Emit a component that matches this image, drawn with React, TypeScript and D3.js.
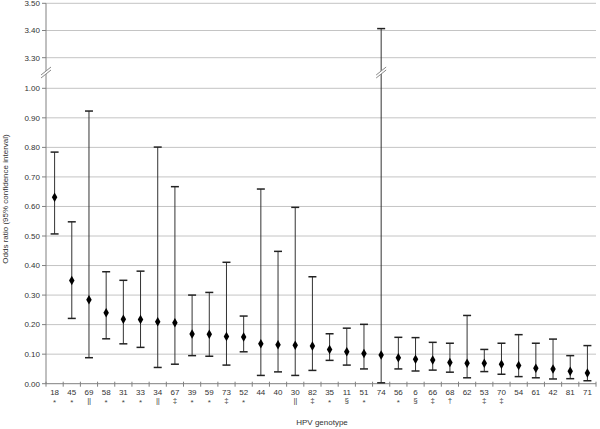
import React from "react";
import * as d3 from "d3";

const genotypes = ["18","45","69","58","31","33","34","67","39","59","73","52","44","40","30","82","35","11","51","74","56","6","66","68","62","53","70","54","61","42","81","71"];
const symbols = ["*","*","||","*","*","*","||","‡","*","*","‡","*","","","||","‡","*","§","*","","*","§","‡","†","","‡","‡","","","","",""];
const oddsRatio = [0.631,0.349,0.284,0.240,0.218,0.217,0.210,0.206,0.168,0.167,0.160,0.158,0.135,0.132,0.130,0.128,0.116,0.108,0.102,0.097,0.088,0.083,0.080,0.072,0.069,0.069,0.066,0.062,0.052,0.050,0.042,0.036];
const ciLower = [0.507,0.221,0.088,0.152,0.135,0.123,0.055,0.066,0.095,0.093,0.063,0.108,0.028,0.040,0.028,0.045,0.079,0.063,0.050,0.003,0.050,0.043,0.046,0.039,0.020,0.041,0.032,0.024,0.020,0.016,0.017,0.010];
const ciUpper = [0.784,0.548,0.923,0.379,0.350,0.381,0.801,0.667,0.300,0.309,0.411,0.229,0.659,0.448,0.597,0.362,0.169,0.188,0.201,3.407,0.157,0.156,0.140,0.137,0.231,0.116,0.137,0.166,0.137,0.151,0.095,0.129];
const lowerTicks = [0, 0.1, 0.2, 0.3, 0.4, 0.5, 0.6, 0.7, 0.8, 0.9, 1.0];
const upperTicks = [3.3, 3.4, 3.5];

const W = 600, H = 429;
const LEFT = 46, RIGHT = 596;
const FONT = "Liberation Sans, Arial, sans-serif";

const x = d3.scaleBand<string>().domain(genotypes).range([LEFT, RIGHT]).padding(0);
const yLow = d3.scaleLinear().domain([0, 1]).range([383.7, 88.3]);
const yHigh = d3.scaleLinear().domain([3.3, 3.5]).range([57.7, 3.3]);
const y = (v: number) => (v > 2 ? yHigh(v) : yLow(v));
const BREAK_Y = 72;

function BreakMark({ cx, cy }: { cx: number; cy: number }) {
  return (
    <g>
      <polygon
        points={`${cx - 5},${cy + 3} ${cx + 5},${cy - 5} ${cx + 5},${cy - 2} ${cx - 5},${cy + 6}`}
        fill="#fff"
      />
      <line x1={cx - 5} y1={cy + 3} x2={cx + 5} y2={cy - 5} stroke="#888" strokeWidth={1} />
      <line x1={cx - 5} y1={cy + 6} x2={cx + 5} y2={cy - 2} stroke="#888" strokeWidth={1} />
    </g>
  );
}

export default function App() {
  const bw = x.bandwidth();
  const ticksX = d3.range(genotypes.length + 1).map((i) => LEFT + i * bw);
  const diamond = d3.symbol().type(d3.symbolDiamond).size(26)();
  const i74 = genotypes.indexOf("74");
  return (
    <svg width={W} height={H} style={{ position: "absolute", left: 0, top: 0, background: "#fff" }} fontFamily={FONT}>
      {/* gridlines */}
      {lowerTicks.filter((t) => t > 0).map((t) => (
        <line key={"gl" + t} x1={LEFT} x2={RIGHT} y1={yLow(t)} y2={yLow(t)} stroke="#c4c4c4" strokeWidth={1} />
      ))}
      {upperTicks.map((t) => (
        <line key={"gu" + t} x1={LEFT} x2={RIGHT} y1={yHigh(t)} y2={yHigh(t)} stroke="#c4c4c4" strokeWidth={1} />
      ))}
      {/* y axis */}
      <line x1={LEFT} x2={LEFT} y1={yHigh(3.5)} y2={yLow(0)} stroke="#808080" strokeWidth={1} />
      {[...lowerTicks.map((t) => ({ t, yy: yLow(t) })), ...upperTicks.map((t) => ({ t, yy: yHigh(t) }))].map(({ t, yy }) => (
        <g key={"yt" + t}>
          <line x1={LEFT - 4} x2={LEFT} y1={yy} y2={yy} stroke="#808080" />
          <text x={LEFT - 6} y={Math.max(yy, 3.5)} dy="0.35em" textAnchor="end" fontSize={8} fill="#333">
            {t.toFixed(2)}
          </text>
        </g>
      ))}
      {/* x axis */}
      <line x1={LEFT} x2={RIGHT} y1={yLow(0)} y2={yLow(0)} stroke="#808080" strokeWidth={1} />
      {ticksX.map((tx, i) => (
        <line key={"xt" + i} x1={tx} x2={tx} y1={yLow(0) - 2} y2={yLow(0) + 3} stroke="#808080" />
      ))}
      {genotypes.map((g, i) => {
        const cx = (x(g) as number) + bw / 2;
        return (
          <g key={"xl" + g}>
            <text x={cx} y={395} textAnchor="middle" fontSize={8} fill="#333">{g}</text>
            {symbols[i] && (
              <text x={cx} y={symbols[i] === "*" ? 405 : 403} textAnchor="middle" fontSize={8} fill="#444" letterSpacing={symbols[i] === "||" ? -0.3 : 0}>
                {symbols[i]}
              </text>
            )}
          </g>
        );
      })}
      {/* error bars */}
      {genotypes.map((g, i) => {
        const cx = (x(g) as number) + bw / 2;
        const yl = y(ciLower[i]);
        const yu = y(ciUpper[i]);
        return (
          <g key={"eb" + g}>
            <line x1={cx} x2={cx} y1={yl} y2={yu} stroke="#333" strokeWidth={1} />
            <line x1={cx - 4} x2={cx + 4} y1={yl} y2={yl} stroke="#222" strokeWidth={1.5} />
            <line x1={cx - 4} x2={cx + 4} y1={yu} y2={yu} stroke="#222" strokeWidth={1.5} />
            <path d={diamond as string} transform={`translate(${cx},${y(oddsRatio[i])})`} fill="#000" />
          </g>
        );
      })}
      {/* break marks */}
      <BreakMark cx={LEFT} cy={BREAK_Y} />
      <BreakMark cx={(x(genotypes[i74]) as number) + bw / 2} cy={BREAK_Y} />
      {/* axis titles */}
      <text transform={`translate(8,199) rotate(-90)`} textAnchor="middle" fontSize={8} fill="#333">
        Odds ratio (95% confidence interval)
      </text>
      <text x={322} y={425} textAnchor="middle" fontSize={8} fill="#333">HPV genotype</text>
    </svg>
  );
}
